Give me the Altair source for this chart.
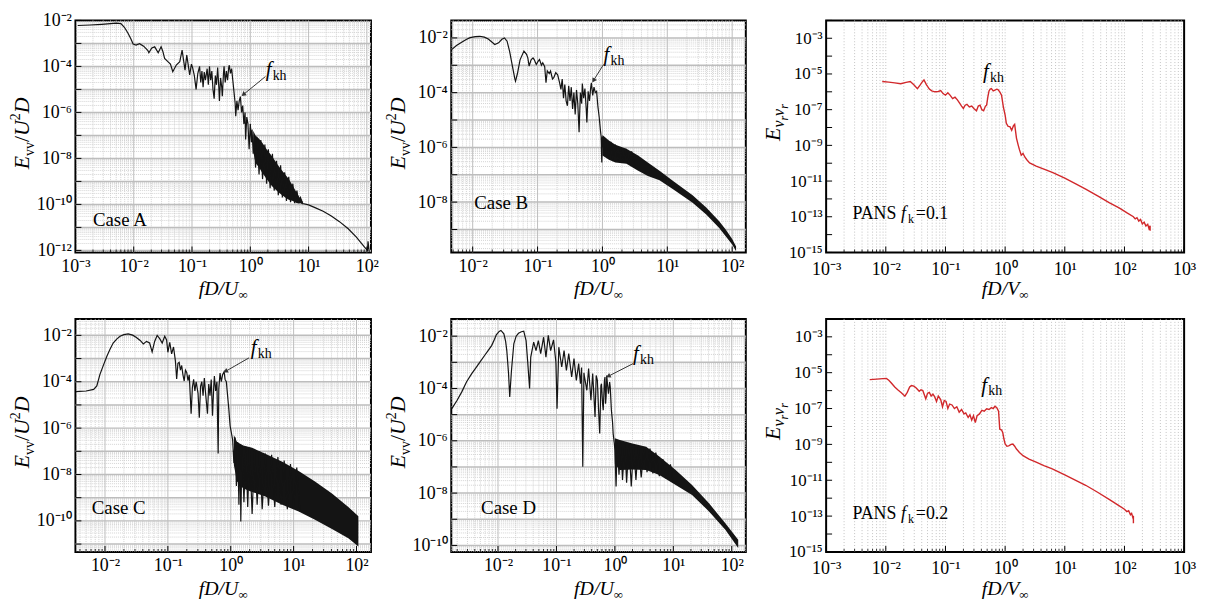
import math
import altair as alt
import pandas as pd

FONT = "Liberation Serif"
INK = "#141414"
RED = "#d1282b"

# ---------------- values (log10 units) ----------------
# Case A
A_XDOM = (-3.0, 2.07)
A_YDOM = (-12.09, -2.0)
A_XTICKS = [-3, -2, -1, 0, 1, 2]
A_YTICKS = [-2, -4, -6, -8, -10, -12]
A_LINE = [
    (-2.96, -2.22), (-2.75, -2.2), (-2.55, -2.17), (-2.4, -2.14), (-2.3, -2.12), (-2.22, -2.14),
    (-2.16, -2.3), (-2.1, -2.55), (-2.05, -2.8), (-2.01, -3.03), (-1.96, -3.07), (-1.9, -3.01),
    (-1.83, -3.12), (-1.76, -3.3), (-1.74, -3.41), (-1.69, -3.2), (-1.64, -3.15), (-1.58, -3.41),
    (-1.53, -3.15), (-1.5, -3.35), (-1.47, -3.65), (-1.41, -3.8), (-1.37, -3.9), (-1.33, -4.23),
    (-1.27, -3.94), (-1.21, -3.8), (-1.17, -3.29), (-1.12, -4.16), (-1.09, -3.51), (-1.04, -4.37),
    (-1.01, -3.9), (-0.99, -4.05), (-0.96, -4.4), (-0.93, -5.0), (-0.9, -4.3), (-0.87, -4.0),
    (-0.85, -4.7), (-0.83, -4.2), (-0.81, -4.9), (-0.79, -4.25), (-0.77, -4.6), (-0.74, -4.1),
    (-0.72, -4.8), (-0.7, -4.0), (-0.68, -4.6), (-0.66, -4.2), (-0.64, -5.0), (-0.62, -5.4),
    (-0.6, -4.4), (-0.58, -4.8), (-0.56, -4.05), (-0.54, -4.9), (-0.53, -5.5), (-0.51, -4.5),
    (-0.49, -4.9), (-0.48, -5.3), (-0.46, -4.3), (-0.45, -4.0), (-0.43, -4.7), (-0.41, -4.2),
    (-0.39, -4.6), (-0.37, -4.05), (-0.36, -3.95), (-0.34, -4.3), (-0.32, -4.1), (-0.3, -4.6),
    (-0.28, -5.1), (-0.26, -5.6), (-0.25, -6.17), (-0.23, -5.5), (-0.21, -5.9), (-0.19, -5.5),
    (-0.17, -5.31), (-0.15, -6.0), (-0.13, -5.7), (-0.11, -6.5), (-0.09, -6.0), (-0.08, -7.18),
    (-0.06, -6.2), (-0.04, -6.5), (-0.02, -7.6), (0.0, -6.5), (0.02, -7.3), (0.03, -6.75),
    (0.05, -7.8), (0.07, -7.0), (0.09, -8.4), (0.12, -7.1), (0.15, -8.7), (0.18, -7.2),
    (0.21, -8.9), (0.25, -7.4), (0.28, -9.1), (0.31, -7.6), (0.34, -9.3), (0.38, -7.8),
    (0.41, -9.4), (0.45, -8.1), (0.48, -9.6), (0.52, -8.3), (0.55, -9.7), (0.59, -8.6),
    (0.62, -9.85), (0.66, -8.8), (0.69, -9.9), (0.73, -9.1), (0.76, -9.95), (0.8, -9.4),
    (0.83, -9.95), (0.86, -9.7), (0.9, -9.96), (1.0, -10.02), (1.11, -10.14), (1.25, -10.3),
    (1.39, -10.5), (1.53, -10.75), (1.68, -11.06), (1.82, -11.42), (1.96, -11.86), (2.01, -12.0),
    (2.02, -11.6), (2.04, -12.06),
]
A_BAND = [  # (log f, lower, upper)
    (0.05, -7.7, -6.8), (0.09, -8.2, -7.0), (0.15, -8.4, -7.15), (0.2, -8.6, -7.3),
    (0.28, -8.9, -7.6), (0.37, -9.2, -7.9), (0.45, -9.4, -8.2), (0.52, -9.55, -8.45),
    (0.6, -9.7, -8.7), (0.66, -9.8, -8.9), (0.73, -9.85, -9.2), (0.8, -9.95, -9.5),
    (0.86, -9.95, -9.75), (0.9, -10.0, -9.9),
]
A_CASE = ("Case A", -2.7, -10.96)
A_FKH = (0.265, -4.42)
A_ARROW = ((0.26, -4.44), (-0.155, -5.30))

# Case B
B_XDOM = (-2.33, 2.21)
B_YDOM = (-9.84, -1.36)
B_XTICKS = [-2, -1, 0, 1, 2]
B_YTICKS = [-2, -4, -6, -8]
B_LINE = [
    (-2.32, -2.42), (-2.25, -2.28), (-2.17, -2.16), (-2.1, -2.06), (-2.04, -1.99), (-1.96, -1.95),
    (-1.89, -1.94), (-1.82, -1.97), (-1.76, -2.04), (-1.7, -2.16), (-1.66, -2.24), (-1.6, -2.18),
    (-1.55, -2.05), (-1.51, -2.0), (-1.47, -2.12), (-1.43, -2.5), (-1.39, -3.0), (-1.35, -3.5),
    (-1.34, -3.58), (-1.31, -3.3), (-1.27, -2.8), (-1.21, -2.48), (-1.17, -2.6), (-1.15, -2.73),
    (-1.13, -3.03), (-1.1, -2.8), (-1.07, -2.73), (-1.05, -2.8), (-1.02, -2.97), (-0.99, -2.85),
    (-0.97, -2.79), (-0.94, -3.0), (-0.92, -2.91), (-0.89, -3.05), (-0.87, -3.64), (-0.85, -3.2),
    (-0.82, -3.3), (-0.8, -3.21), (-0.77, -3.5), (-0.75, -3.45), (-0.72, -3.27), (-0.69, -3.35),
    (-0.66, -3.64), (-0.64, -3.88), (-0.62, -3.5), (-0.6, -4.2), (-0.58, -3.7), (-0.56, -4.3),
    (-0.54, -4.48), (-0.52, -3.75), (-0.5, -4.3), (-0.48, -3.8), (-0.46, -4.6), (-0.44, -4.0),
    (-0.42, -4.8), (-0.4, -3.9), (-0.38, -4.4), (-0.36, -5.45), (-0.34, -4.0), (-0.32, -4.4),
    (-0.31, -3.67), (-0.29, -4.2), (-0.27, -3.85), (-0.25, -4.6), (-0.24, -5.09), (-0.22, -3.95),
    (-0.2, -4.3), (-0.18, -3.8), (-0.17, -3.64), (-0.15, -4.1), (-0.13, -3.8), (-0.11, -4.0),
    (-0.09, -3.95), (-0.07, -4.5), (-0.05, -4.9), (-0.03, -5.4), (-0.02, -5.6), (-0.01, -6.55),
    (0.0, -5.6), (0.02, -6.1), (0.04, -5.7), (0.06, -6.3), (0.08, -5.75), (0.1, -6.4),
    (0.13, -5.8), (0.16, -6.5), (0.2, -5.9), (0.24, -6.5), (0.28, -6.0), (0.32, -6.55),
    (0.36, -6.05), (0.4, -6.6), (0.45, -6.15), (0.5, -6.7),
]
B_BAND = [
    (0.0, -6.3, -5.55), (0.1, -6.45, -5.75), (0.2, -6.55, -5.9), (0.37, -6.6, -6.05),
    (0.55, -6.85, -6.3), (0.7, -7.05, -6.55), (0.88, -7.2, -6.85), (1.1, -7.55, -7.25),
    (1.39, -8.02, -7.75), (1.6, -8.45, -8.2), (1.8, -8.95, -8.7), (1.9, -9.25, -9.0),
    (2.0, -9.55, -9.35), (2.06, -9.8, -9.62),
]
B_CASE = ("Case B", -1.976, -8.27)
B_FKH = (0.017, -2.84)
B_ARROW = ((0.017, -2.97), (-0.16, -3.64))

# Case C
C_XDOM = (-2.47, 2.23)
C_YDOM = (-11.34, -1.29)
C_XTICKS = [-2, -1, 0, 1, 2]
C_YTICKS = [-2, -4, -6, -8, -10]
C_LINE = [
    (-2.46, -4.43), (-2.3, -4.4), (-2.18, -4.33), (-2.13, -4.18), (-2.08, -3.68), (-2.02, -3.25),
    (-1.97, -2.9), (-1.92, -2.6), (-1.87, -2.33), (-1.81, -2.15), (-1.76, -2.04), (-1.7, -1.97),
    (-1.63, -1.94), (-1.56, -1.99), (-1.5, -2.09), (-1.44, -2.22), (-1.39, -2.37), (-1.34, -2.26),
    (-1.29, -2.33), (-1.25, -2.71), (-1.21, -2.26), (-1.17, -2.0), (-1.13, -2.14), (-1.09, -2.33),
    (-1.05, -2.04), (-1.02, -2.2), (-1.0, -2.73), (-0.97, -2.3), (-0.94, -2.8), (-0.91, -2.5),
    (-0.88, -3.1), (-0.86, -3.88), (-0.84, -3.2), (-0.82, -3.16), (-0.8, -3.5), (-0.78, -3.3),
    (-0.76, -3.7), (-0.74, -3.97), (-0.72, -3.5), (-0.7, -3.6), (-0.68, -3.95), (-0.66, -3.7),
    (-0.63, -5.38), (-0.61, -4.24), (-0.59, -3.9), (-0.57, -4.4), (-0.55, -4.0), (-0.52, -4.5),
    (-0.5, -5.55), (-0.48, -4.2), (-0.46, -4.0), (-0.44, -4.6), (-0.42, -3.84), (-0.4, -4.5),
    (-0.37, -5.38), (-0.35, -4.1), (-0.33, -4.6), (-0.31, -3.9), (-0.29, -5.47), (-0.27, -4.2),
    (-0.26, -3.75), (-0.24, -4.4), (-0.22, -4.0), (-0.2, -7.09), (-0.19, -4.3), (-0.17, -3.63),
    (-0.15, -4.0), (-0.13, -3.7), (-0.105, -3.57), (-0.09, -3.9), (-0.07, -4.0), (-0.05, -4.6),
    (-0.03, -5.2), (-0.01, -5.9), (0.01, -6.2), (0.03, -6.5), (0.05, -7.5), (0.07, -6.4),
    (0.09, -8.5), (0.11, -6.6), (0.13, -9.3), (0.15, -6.7), (0.16, -10.03), (0.18, -6.8),
    (0.21, -9.2), (0.24, -6.8), (0.27, -9.4), (0.3, -6.85), (0.34, -9.7), (0.38, -6.9),
    (0.42, -9.3), (0.46, -7.0), (0.5, -9.5), (0.55, -7.1), (0.6, -9.35), (0.65, -7.15),
    (0.7, -9.4), (0.75, -7.25), (0.8, -9.3), (0.85, -7.4), (0.9, -9.5), (0.95, -7.55),
    (1.0, -9.45), (1.05, -7.7), (1.1, -9.6),
]
C_BAND = [
    (0.05, -7.6, -6.3), (0.1, -8.3, -6.6), (0.2, -8.6, -6.75), (0.34, -8.75, -6.85),
    (0.55, -8.95, -7.1), (0.82, -9.3, -7.45), (1.08, -9.6, -7.85), (1.34, -9.95, -8.3),
    (1.61, -10.35, -8.82), (1.87, -10.75, -9.4), (2.03, -11.1, -9.8),
]
C_CASE = ("Case C", -2.21, -9.70)
C_FKH = (0.32, -2.81)
C_ARROW = ((0.29, -2.97), (-0.12, -3.61))

# Case D
D_XDOM = (-2.8, 2.24)
D_YDOM = (-10.25, -1.34)
D_XTICKS = [-2, -1, 0, 1, 2]
D_YTICKS = [-2, -4, -6, -8, -10]
D_LINE = [
    (-2.79, -4.77), (-2.7, -4.45), (-2.62, -4.13), (-2.54, -3.75), (-2.45, -3.43), (-2.37, -3.18),
    (-2.31, -2.99), (-2.23, -2.74), (-2.17, -2.55), (-2.11, -2.36), (-2.06, -2.12), (-2.03, -1.95),
    (-1.98, -1.82), (-1.95, -1.78), (-1.9, -1.91), (-1.87, -2.2), (-1.85, -2.55), (-1.82, -3.43),
    (-1.8, -4.32), (-1.77, -3.31), (-1.73, -2.29), (-1.69, -2.0), (-1.65, -1.89), (-1.6, -1.83),
    (-1.56, -1.81), (-1.52, -2.17), (-1.49, -3.05), (-1.46, -4.0), (-1.44, -2.8), (-1.39, -2.23),
    (-1.35, -2.55), (-1.31, -2.17), (-1.27, -2.67), (-1.22, -2.04), (-1.18, -2.8), (-1.14, -1.97),
    (-1.1, -2.55), (-1.05, -2.14), (-1.01, -2.99), (-0.99, -4.77), (-0.96, -2.42), (-0.91, -3.18),
    (-0.87, -2.55), (-0.83, -3.31), (-0.79, -2.67), (-0.74, -3.56), (-0.7, -2.86), (-0.66, -3.69),
    (-0.62, -3.05), (-0.59, -3.82), (-0.57, -3.2), (-0.55, -6.99), (-0.53, -3.4), (-0.52, -3.56),
    (-0.48, -4.07), (-0.45, -3.24), (-0.41, -4.45), (-0.38, -3.43), (-0.34, -5.09), (-0.32, -3.5),
    (-0.3, -3.69), (-0.28, -4.8), (-0.26, -5.72), (-0.24, -3.9), (-0.23, -3.82), (-0.21, -4.6),
    (-0.2, -4.83), (-0.18, -3.7), (-0.17, -3.56), (-0.16, -4.58), (-0.15, -4.3), (-0.14, -3.5),
    (-0.12, -4.0), (-0.11, -4.2), (-0.09, -3.75), (-0.08, -3.94), (-0.06, -4.83), (-0.04, -5.3),
    (-0.03, -5.72), (-0.01, -6.1), (0.0, -6.36), (0.02, -7.75), (0.04, -6.1), (0.07, -7.3),
    (0.1, -6.05), (0.13, -7.5), (0.17, -6.1), (0.2, -7.6), (0.24, -6.1), (0.28, -7.75),
    (0.32, -6.15), (0.36, -7.5), (0.4, -6.2), (0.45, -7.4), (0.5, -6.25), (0.55, -7.2),
    (0.6, -6.3), (0.65, -7.25), (0.7, -6.45), (0.76, -7.35), (0.82, -6.7), (0.88, -7.45),
    (0.95, -6.9), (1.0, -7.6),
]
D_BAND = [
    (0.0, -6.9, -5.9), (0.085, -7.12, -5.97), (0.3, -7.1, -6.1), (0.535, -7.12, -6.23),
    (0.76, -7.31, -6.6), (1.04, -7.69, -7.12), (1.32, -8.07, -7.69), (1.61, -8.7, -8.39),
    (1.89, -9.4, -9.15), (2.11, -10.1, -9.78),
]
D_CASE = ("Case D", -2.29, -8.79)
D_FKH = (0.31, -2.93)
D_ARROW = ((0.31, -3.05), (-0.155, -3.58))

# PANS fk = 0.1
E_XDOM = (-3.0, 3.0)
E_YDOM = (-15.0, -2.0)
E_XTICKS = [-3, -2, -1, 0, 1, 2, 3]
E_YTICKS = [-3, -5, -7, -9, -11, -13, -15]
E_LINE = [
    (-2.06, -5.42), (-1.95, -5.46), (-1.85, -5.5), (-1.75, -5.55), (-1.66, -5.47), (-1.59, -5.42),
    (-1.53, -5.6), (-1.47, -5.82), (-1.42, -5.6), (-1.38, -5.4), (-1.36, -5.33), (-1.32, -5.6),
    (-1.27, -5.85), (-1.23, -5.95), (-1.18, -6.0), (-1.12, -5.98), (-1.08, -5.93), (-1.04, -6.1),
    (-1.0, -6.19), (-0.96, -6.05), (-0.92, -6.2), (-0.88, -6.38), (-0.84, -6.3), (-0.8, -6.45),
    (-0.76, -6.65), (-0.73, -6.8), (-0.7, -6.93), (-0.67, -6.75), (-0.64, -6.7), (-0.6, -6.85),
    (-0.56, -6.8), (-0.52, -6.95), (-0.48, -7.06), (-0.45, -6.8), (-0.42, -6.75), (-0.39, -7.0),
    (-0.36, -7.06), (-0.33, -6.8), (-0.31, -6.75), (-0.29, -6.3), (-0.27, -5.95), (-0.25, -5.85),
    (-0.23, -5.82), (-0.2, -5.95), (-0.17, -5.9), (-0.14, -5.85), (-0.12, -5.87), (-0.09, -6.0),
    (-0.06, -6.19), (-0.03, -6.84), (0.0, -7.3), (0.02, -7.76), (0.05, -7.94), (0.08, -7.95),
    (0.11, -8.15), (0.14, -7.9), (0.16, -7.82), (0.19, -8.59), (0.22, -9.0), (0.24, -9.24),
    (0.27, -9.55), (0.3, -9.45), (0.33, -9.65), (0.36, -9.79), (0.41, -9.98), (0.52, -10.16),
    (0.65, -10.33), (0.8, -10.53), (1.0, -10.83), (1.2, -11.18), (1.35, -11.45), (1.55, -11.83),
    (1.75, -12.22), (1.91, -12.5), (2.05, -12.8), (2.15, -13.0), (2.18, -13.12), (2.21, -13.05),
    (2.24, -13.24), (2.27, -13.15), (2.3, -13.4), (2.33, -13.3), (2.36, -13.52), (2.39, -13.42),
    (2.41, -13.65), (2.43, -13.5), (2.43, -13.78),
]
E_PANS = ("0.1", -2.56, -13.13)
E_FKH = (-0.37, -5.21)

# PANS fk = 0.2
F_XDOM = (-3.0, 3.0)
F_YDOM = (-15.0, -2.0)
F_XTICKS = [-3, -2, -1, 0, 1, 2, 3]
F_YTICKS = [-3, -5, -7, -9, -11, -13, -15]
F_LINE = [
    (-2.27, -5.39), (-2.15, -5.36), (-2.05, -5.33), (-1.99, -5.32), (-1.95, -5.42), (-1.9, -5.6),
    (-1.85, -5.8), (-1.8, -5.95), (-1.74, -6.12), (-1.68, -6.31), (-1.64, -6.1), (-1.6, -5.8),
    (-1.57, -5.72), (-1.53, -5.75), (-1.49, -5.85), (-1.44, -6.04), (-1.41, -5.95), (-1.38, -6.0),
    (-1.33, -6.46), (-1.3, -6.15), (-1.27, -6.1), (-1.24, -6.3), (-1.21, -6.2), (-1.18, -6.35),
    (-1.15, -6.6), (-1.12, -6.3), (-1.08, -6.5), (-1.05, -6.9), (-1.02, -6.55), (-0.99, -6.6),
    (-0.96, -7.0), (-0.93, -6.75), (-0.89, -6.8), (-0.85, -7.0), (-0.81, -6.9), (-0.77, -7.2),
    (-0.73, -7.05), (-0.69, -7.3), (-0.66, -7.25), (-0.62, -7.5), (-0.59, -7.35), (-0.56, -7.64),
    (-0.53, -7.4), (-0.5, -7.79), (-0.47, -7.4), (-0.43, -7.3), (-0.39, -7.1), (-0.35, -7.15),
    (-0.31, -7.01), (-0.27, -7.05), (-0.23, -6.95), (-0.2, -7.0), (-0.17, -6.87), (-0.14, -6.95),
    (-0.11, -7.15), (-0.09, -8.15), (-0.06, -8.2), (-0.04, -8.34), (-0.02, -8.7), (0.0, -8.98),
    (0.03, -9.1), (0.06, -9.08), (0.1, -9.0), (0.13, -8.98), (0.16, -9.1), (0.19, -9.26),
    (0.24, -9.45), (0.3, -9.63), (0.4, -9.82), (0.52, -9.99), (0.65, -10.18), (0.79, -10.36),
    (1.0, -10.7), (1.2, -11.03), (1.35, -11.28), (1.55, -11.67), (1.75, -12.08), (1.9, -12.4),
    (2.0, -12.62), (2.04, -12.75), (2.07, -12.7), (2.1, -12.92), (2.12, -12.85), (2.14, -13.08),
    (2.15, -12.98), (2.15, -13.4),
]
F_PANS = ("0.2", -2.56, -13.18)
F_FKH = (-0.40, -6.05)

# ---------------- helpers ----------------
SUP = {"-": "\u207b", "0": "\u2070", "1": "\u00b9", "2": "\u00b2", "3": "\u00b3",
       "4": "\u2074", "5": "\u2075", "6": "\u2076", "7": "\u2077", "8": "\u2078", "9": "\u2079"}
LABEL_EXPR = "'' + round(log(datum.value) / LN10)"
for _k, _v in SUP.items():
    LABEL_EXPR = "replace(%s, regexp('%s', 'g'), '%s')" % (LABEL_EXPR, _k, _v)
LABEL_EXPR = "'10' + " + LABEL_EXPR

ITAL = {"E": 0.611, "U": 0.722, "V": 0.611, "D": 0.722, "f": 0.278, "v": 0.444, "r": 0.389,
        "k": 0.444, "/": 0.278}
ROMN = {"v": 0.5, "2": 0.5, "/": 0.278, "\u221e": 0.713, "k": 0.5, "h": 0.5}


def tw(s, size, style):
    tab = ITAL if style == "italic" else ROMN
    return sum(tab.get(c, 0.5) for c in s) * size


ONE = pd.DataFrame({"k": [0]})


def line_df(pairs):
    return pd.DataFrame({"i": list(range(len(pairs))),
                         "f": [10.0 ** p[0] for p in pairs],
                         "E": [10.0 ** p[1] for p in pairs]})


def band_df(rows):
    return pd.DataFrame({"f": [10.0 ** r[0] for r in rows],
                         "lo": [10.0 ** r[1] for r in rows],
                         "hi": [10.0 ** r[2] for r in rows]})


def pt_df(lx, ly):
    return pd.DataFrame({"x": [10.0 ** lx], "y": [10.0 ** ly]})


def grid_vals(lo, hi, ks):
    out = []
    for d in range(int(math.floor(lo)) - 1, int(math.ceil(hi)) + 1):
        for k in ks:
            v = d + math.log10(k)
            if lo + 0.012 < v < hi - 0.012:
                out.append(10.0 ** v)
    return out


def tick_vals(lo, hi, ks):
    out = []
    for d in range(int(math.floor(lo)) - 1, int(math.ceil(hi)) + 1):
        for k in ks:
            v = d + math.log10(k)
            if lo - 1e-9 <= v <= hi + 1e-9:
                out.append(10.0 ** v)
    return out


def panel(W, H, xdom, ydom, xticks, yticks, line, color, band=None, case=None, fkh=None,
          arrow=None, pans=None, pans_style=False, xvar="U", ytitle_kind="vv", ytitle_shift=-3):
    x0, x1 = xdom
    y0, y1 = ydom
    xs = alt.Scale(type="log", domain=[10.0 ** x0, 10.0 ** x1], nice=False)
    ys = alt.Scale(type="log", domain=[10.0 ** y0, 10.0 ** y1], nice=False)
    common = dict(title=None, grid=False, ticks=False, tickSize=0, domain=False, labelFont=FONT,
                  labelColor="black", labelFlush=False, labelOverlap=False,
                  labelExpr=LABEL_EXPR)
    xax = alt.Axis(values=[10.0 ** e for e in xticks], labelPadding=8 if pans_style else 5,
                   labelFontSize=18, **common)
    yax = alt.Axis(values=[10.0 ** e for e in yticks], labelPadding=4,
                   labelFontSize=17 if pans_style else 18, **common)

    def X(f):
        return alt.X(f, type="quantitative", scale=xs, axis=xax)

    def Y(f):
        return alt.Y(f, type="quantitative", scale=ys, axis=yax)

    layers = []
    minor = [2, 3, 4, 5, 6, 7, 8, 9]
    if not pans_style:
        layers.append(alt.Chart(pd.DataFrame({"v": grid_vals(x0, x1, minor)})).mark_rule(
            color="#c9c9c9", strokeWidth=0.8, strokeDash=[1, 1]).encode(x=X("v")))
        layers.append(alt.Chart(pd.DataFrame({"v": grid_vals(y0, y1, minor)})).mark_rule(
            color="#c9c9c9", strokeWidth=0.8, strokeDash=[1, 1]).encode(y=Y("v")))
        layers.append(alt.Chart(pd.DataFrame({"v": grid_vals(x0, x1, [1])})).mark_rule(
            color="#bdbdbd", strokeWidth=1).encode(x=X("v")))
        layers.append(alt.Chart(pd.DataFrame({"v": grid_vals(y0, y1, [1])})).mark_rule(
            color="#bdbdbd", strokeWidth=1.5).encode(y=Y("v")))
    else:
        layers.append(alt.Chart(pd.DataFrame({"v": grid_vals(x0, x1, [1] + minor)})).mark_rule(
            color="#bdbdbd", strokeWidth=0.9, strokeDash=[1, 2]).encode(x=X("v")))

    if band is not None:
        layers.append(alt.Chart(band_df(band)).mark_area(color=color, opacity=1, line=False).encode(
            x=X("f"), y=Y("lo"), y2=alt.Y2("hi")))
    layers.append(alt.Chart(line_df(line)).mark_line(
        color=color, strokeWidth=1.2 if not pans_style else 1.4).encode(
        x=X("f"), y=Y("E"), order=alt.Order("i:Q")))

    # inward ticks (bottom / left)
    layers.append(alt.Chart(pd.DataFrame({"v": tick_vals(x0, x1, [1])})).mark_rule(
        color="black", strokeWidth=1).encode(x=X("v"), y=alt.value(H), y2=alt.value(H - 6)))
    layers.append(alt.Chart(pd.DataFrame({"v": tick_vals(x0, x1, minor)})).mark_rule(
        color="black", strokeWidth=0.8).encode(x=X("v"), y=alt.value(H), y2=alt.value(H - 3)))
    layers.append(alt.Chart(pd.DataFrame({"v": tick_vals(y0, y1, [1])})).mark_rule(
        color="black", strokeWidth=1).encode(y=Y("v"), x=alt.value(0), x2=alt.value(6)))

    # case label
    if case is not None:
        layers.append(alt.Chart(pt_df(case[1], case[2])).mark_text(
            text=case[0], align="left", baseline="alphabetic", font=FONT, fontSize=19,
            color="black").encode(x=X("x"), y=Y("y")))
    if pans is not None:
        for txt, size, style, dx, dy in [("PANS", 18, "normal", 0, 0), ("f", 18, "italic", 49, 0),
                                         ("k", 12, "normal", 56, 4), ("=" + pans[0], 18, "normal", 64, 0)]:
            layers.append(alt.Chart(pt_df(pans[1], pans[2])).mark_text(
                text=txt, align="left", baseline="alphabetic", font=FONT, fontSize=size,
                fontStyle=style, dx=dx, dy=dy, color="black").encode(x=X("x"), y=Y("y")))
    # f_kh label
    if fkh is not None:
        layers.append(alt.Chart(pt_df(*fkh)).mark_text(
            text="f", align="left", baseline="alphabetic", font=FONT, fontSize=21,
            fontStyle="italic", color="black").encode(x=X("x"), y=Y("y")))
        layers.append(alt.Chart(pt_df(*fkh)).mark_text(
            text="kh", align="left", baseline="alphabetic", font=FONT, fontSize=14, dx=7, dy=4,
            color="black").encode(x=X("x"), y=Y("y")))
    # arrow
    if arrow is not None:
        (sx, sy), (ex, ey) = arrow
        pxx = W / (x1 - x0)
        pxy = H / (y1 - y0)
        ddx = (ex - sx) * pxx
        ddy = -(ey - sy) * pxy
        L = math.hypot(ddx, ddy)
        ux, uy = ddx / L, ddy / L
        ang = math.degrees(math.atan2(ux, -uy)) % 360
        hx = ex - 3.5 * ux / pxx
        hy = ey + 3.5 * uy / pxy
        adf = pd.DataFrame({"x": [10.0 ** sx], "y": [10.0 ** sy], "x2": [10.0 ** hx], "y2": [10.0 ** hy]})
        layers.append(alt.Chart(adf).mark_rule(color="#333333", strokeWidth=1).encode(
            x=X("x"), y=Y("y"), x2=alt.X2("x2"), y2=alt.Y2("y2")))
        layers.append(alt.Chart(pt_df(hx, hy)).mark_point(
            shape="triangle", filled=True, size=28, angle=ang, color="#333333", opacity=1).encode(
            x=X("x"), y=Y("y")))

    # y title (rotated composite)
    if ytitle_kind == "vv":
        pieces = [("E", 22, "italic", 0), ("vv", 14, "normal", 5), ("/", 22, "normal", 0),
                  ("U", 22, "italic", 0), ("2", 14, "normal", -9), ("D", 22, "italic", 0)]
    else:
        pieces = [("E", 22, "italic", 0), ("v", 16, "italic", 5), ("r", 12, "italic", 9),
                  ("v", 16, "italic", 5), ("r", 12, "italic", 9)]
    total = sum(tw(t, s, st) for t, s, st, _ in pieces)
    cy = H / 2 + ytitle_shift
    cum = 0.0
    for t, s, st, dy in pieces:
        layers.append(alt.Chart(ONE).mark_text(
            text=t, align="left", baseline="alphabetic", angle=270, font=FONT, fontSize=s,
            fontStyle=st, dy=dy, color="black").encode(
            x=alt.value(-47), y=alt.value(cy + total / 2 - cum)))
        cum += tw(t, s, st)

    # x title
    xp = [("fD/" + xvar, 20, "italic", 0), ("\u221e", 13, "normal", 4)]
    total = sum(tw(t, s, st) for t, s, st, _ in xp)
    cum = 0.0
    for t, s, st, dy in xp:
        layers.append(alt.Chart(ONE).mark_text(
            text=t, align="left", baseline="alphabetic", font=FONT, fontSize=s, fontStyle=st,
            dy=dy, color="black").encode(
            x=alt.value(W / 2 - total / 2 + cum), y=alt.value(H + 43)))
        cum += tw(t, s, st)

    return alt.layer(*layers).properties(width=W, height=H)


pA = panel(298, 234, A_XDOM, A_YDOM, A_XTICKS, A_YTICKS, A_LINE, INK, band=A_BAND,
           case=A_CASE, fkh=A_FKH, arrow=A_ARROW)
pB = panel(297, 234, B_XDOM, B_YDOM, B_XTICKS, B_YTICKS, B_LINE, INK, band=B_BAND,
           case=B_CASE, fkh=B_FKH, arrow=B_ARROW)
pE = panel(361, 234, E_XDOM, E_YDOM, E_XTICKS, E_YTICKS, E_LINE, RED, pans=E_PANS,
           pans_style=True, fkh=E_FKH, xvar="V", ytitle_kind="vr", ytitle_shift=-14)
pC = panel(298, 235, C_XDOM, C_YDOM, C_XTICKS, C_YTICKS, C_LINE, INK, band=C_BAND,
           case=C_CASE, fkh=C_FKH, arrow=C_ARROW)
pD = panel(297, 235, D_XDOM, D_YDOM, D_XTICKS, D_YTICKS, D_LINE, INK, band=D_BAND,
           case=D_CASE, fkh=D_FKH, arrow=D_ARROW)
pF = panel(361, 235, F_XDOM, F_YDOM, F_XTICKS, F_YTICKS, F_LINE, RED, pans=F_PANS,
           pans_style=True, fkh=F_FKH, xvar="V", ytitle_kind="vr", ytitle_shift=-14)

chart = alt.concat(pA, pB, pE, pC, pD, pF, columns=3, spacing={"row": 67, "column": 81},
                   bounds="flush").properties(
    padding={"left": 0, "top": 0, "right": 2, "bottom": 2},
    background="white",
).configure_view(stroke="black", strokeWidth=2)

chart.save("out.html", embed_options={"renderer": "svg", "actions": False})
